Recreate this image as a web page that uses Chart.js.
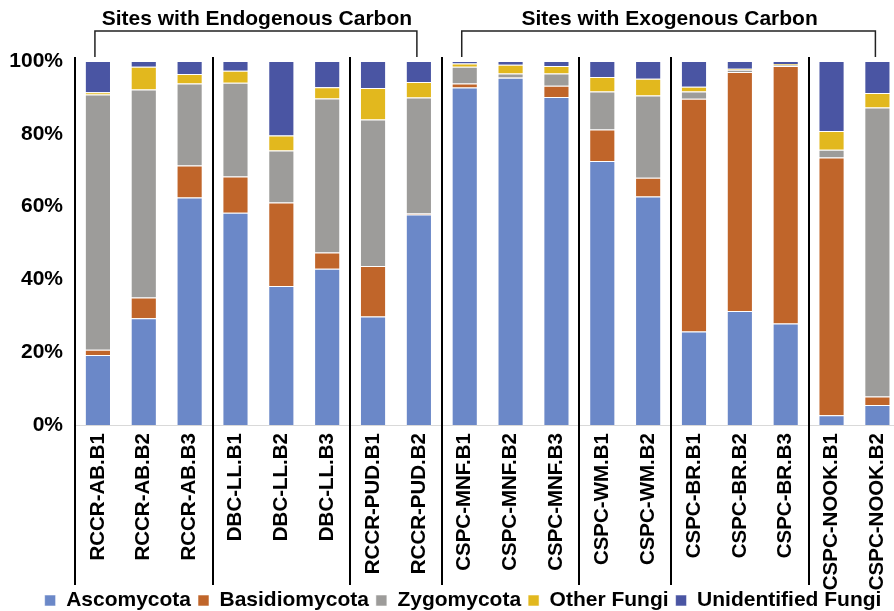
<!DOCTYPE html>
<html>
<head>
<meta charset="utf-8">
<script src="https://cdn.jsdelivr.net/npm/chart.js@4/dist/chart.umd.min.js"></script>
<style>
  html, body { margin: 0; padding: 0; background: #fff; overflow: hidden; }
  #wrap { width: 902px; height: 611px; }
</style>
</head>
<body>
<div id="wrap"><canvas id="c" width="902" height="611"></canvas></div>
<script>
// Relative abundance (%) of fungal phyla per sample
const samples = [
  'RCCR-AB.B1', 'RCCR-AB.B2', 'RCCR-AB.B3',
  'DBC-LL.B1', 'DBC-LL.B2', 'DBC-LL.B3',
  'RCCR-PUD.B1', 'RCCR-PUD.B2',
  'CSPC-MNF.B1', 'CSPC-MNF.B2', 'CSPC-MNF.B3',
  'CSPC-WM.B1', 'CSPC-WM.B2',
  'CSPC-BR.B1', 'CSPC-BR.B2', 'CSPC-BR.B3',
  'CSPC-NOOK.B1', 'CSPC-NOOK.B2'
];
const ascomycota    = [19.2, 29.3, 62.5, 58.3, 38.2, 42.9, 29.8, 57.8, 92.7, 95.4, 90.1, 72.5, 62.8, 25.7, 31.3, 27.9, 2.7, 5.5];
const basidiomycota = [1.5, 5.7, 8.8, 10.0, 22.9, 4.5, 13.9, 0.3, 1.1, 0.1, 3.1, 8.7, 5.1, 63.9, 65.7, 70.7, 70.8, 2.3];
const zygomycota    = [70.1, 57.2, 22.5, 25.7, 14.3, 42.3, 40.2, 31.9, 4.6, 1.1, 3.4, 10.4, 22.6, 2.0, 0.6, 0.3, 2.1, 79.4];
const otherFungi    = [0.6, 6.2, 2.6, 3.3, 4.1, 3.1, 8.7, 4.2, 0.9, 2.4, 2.0, 4.0, 4.6, 1.3, 0.3, 0.3, 5.2, 4.0];
const unidentified  = [8.6, 1.6, 3.6, 2.7, 20.5, 7.2, 7.4, 5.8, 0.7, 1.0, 1.4, 4.4, 4.9, 7.1, 2.1, 0.8, 19.2, 8.8];
const yTicks = [0, 20, 40, 60, 80, 100];

// Site groups: index where each group starts
const groupStarts = [0, 3, 6, 8, 11, 13, 16];
// Bracketed headings: [first sample, last sample, text]
const brackets = [
  [0, 7, 'Sites with Endogenous Carbon'],
  [8, 17, 'Sites with Exogenous Carbon']
];

const FONT = "Arial, 'Liberation Sans', sans-serif";
const edge = 'rgba(255,255,255,0.55)';

const groupPlugin = {
  id: 'groups',
  afterDraw(chart) {
    const ctx = chart.ctx;
    const xs = chart.scales.x;
    const step = xs.getPixelForValue(1) - xs.getPixelForValue(0);
    ctx.save();
    // Vertical separators between site groups
    ctx.strokeStyle = '#000';
    ctx.lineWidth = 2;
    groupStarts.forEach(i => {
      const x = Math.round(xs.getPixelForValue(i) - step / 2);
      ctx.beginPath();
      ctx.moveTo(x, 57);
      ctx.lineTo(x, 585);
      ctx.stroke();
    });
    // Headings with brackets
    ctx.lineWidth = 1.5;
    ctx.strokeStyle = '#222';
    ctx.fillStyle = '#000';
    ctx.font = 'bold 21px ' + FONT;
    ctx.textAlign = 'center';
    ctx.textBaseline = 'middle';
    brackets.forEach(([a, b, text]) => {
      const x1 = xs.getPixelForValue(a) - 3;
      const x2 = xs.getPixelForValue(b) - 2;
      ctx.beginPath();
      ctx.moveTo(x1, 57);
      ctx.lineTo(x1, 31);
      ctx.lineTo(x2, 31);
      ctx.lineTo(x2, 57);
      ctx.stroke();
      ctx.fillText(text, (x1 + x2) / 2 + 1, 19);
    });
    ctx.restore();
  }
};

// Compact legend row at the very bottom, nudged right
const legendFit = {
  id: 'legendFit',
  beforeInit(chart) {
    const fit = chart.legend.fit;
    chart.legend.fit = function () {
      fit.bind(chart.legend)();
      this.height = 28;
    };
  },
  afterLayout(chart) {
    chart.legend.left += 12;
    chart.legend.right += 12;
  }
};

const mk = (label, data, color) => ({
  label, data, backgroundColor: color, borderColor: edge, borderWidth: 1,
  barPercentage: 0.57, categoryPercentage: 1.0
});

new Chart(document.getElementById('c'), {
  type: 'bar',
  data: {
    labels: samples,
    datasets: [
      mk('Ascomycota', ascomycota, '#6B88C8'),
      mk('Basidiomycota', basidiomycota, '#C0652A'),
      mk('Zygomycota', zygomycota, '#9D9C9A'),
      mk('Other Fungi', otherFungi, '#E2B81E'),
      mk('Unidentified Fungi', unidentified, '#4A55A3')
    ]
  },
  options: {
    responsive: false,
    animation: false,
    devicePixelRatio: 1,
    layout: { padding: { top: 61, left: 0, right: 0, bottom: 0 } },
    plugins: {
      tooltip: { enabled: false },
      legend: {
        position: 'bottom',
        labels: {
          boxWidth: 11, boxHeight: 11, padding: 7,
          color: '#000',
          font: { family: FONT, size: 21, weight: 'bold' }
        }
      }
    },
    scales: {
      x: {
        stacked: true,
        grid: { display: false },
        border: { display: true, color: '#d9d9d9', width: 1 },
        ticks: {
          color: '#000', minRotation: 90, maxRotation: 90, padding: 0,
          autoSkip: false,
          font: { family: FONT, size: 20.5, weight: 'bold' }
        },
        afterFit(s) {
          s.height = 158;
          // let long rotated labels run past the axis box
          s._computeLabelArea = () => undefined;
        }
      },
      y: {
        stacked: true, min: 0, max: 100,
        afterBuildTicks(s) { s.ticks = yTicks.map(v => ({ value: v })); },
        grid: { display: false, drawTicks: false },
        border: { display: false },
        ticks: {
          color: '#000', padding: 12,
          font: { family: FONT, size: 21, weight: 'bold' },
          callback: v => v + '%'
        },
        afterFit(s) { s.width = 75; }
      }
    }
  },
  plugins: [groupPlugin, legendFit]
});
</script>
</body>
</html>
